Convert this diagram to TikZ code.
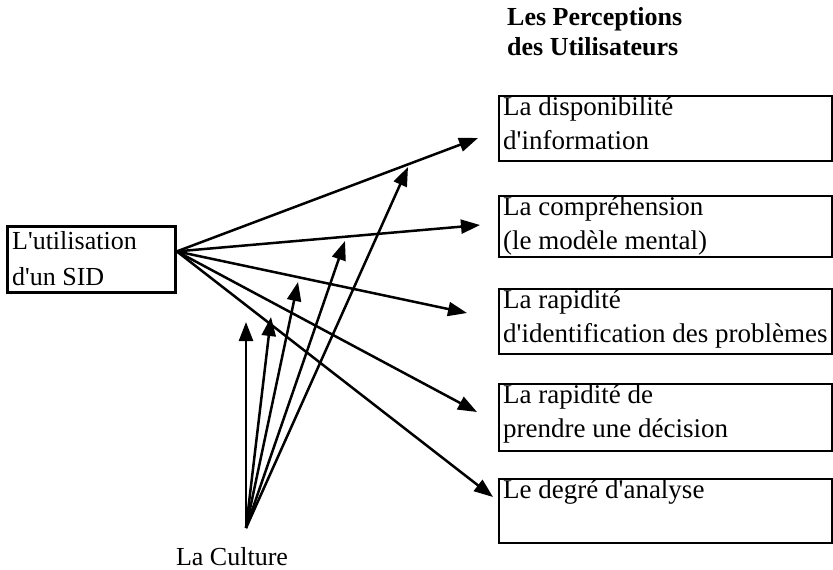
\documentclass[tikz,border=0pt]{standalone}
\usepackage{fontspec}
\setmainfont{Liberation Serif}[Ligatures=TeXOff]
\usetikzlibrary{arrows.meta}
\newcommand\boxlines[1]{\begin{tabular}[t]{@{}l@{}}#1\end{tabular}}
\begin{document}
\begin{tikzpicture}[x=1pt,y=-1pt,
  frame/.style={draw, line width=2.4pt, minimum width=333pt, anchor=north west, inner sep=0pt},
  txt/.style={anchor=base west, inner sep=0pt, font=\fontsize{27}{34}\selectfont},
  arr/.style={line width=2.5pt, -{Triangle[length=19pt,width=14pt]}}]
\useasboundingbox (0,0) rectangle (833,570);

% title
\node[txt, font=\fontsize{26}{30}\selectfont\bfseries] (title) at (507,25)
  {\boxlines{Les Perceptions\\des Utilisateurs}};

% left box
\node[frame, minimum width=168pt, minimum height=66pt, line width=2.8pt] (L) at (6,225) {};
\node[txt, font=\fontsize{26}{36}\selectfont] (Lt) at (12,249) {\boxlines{L'utilisation\\d'un SID}};

% right boxes
\node[frame, minimum height=65pt] (b1) at (498,95) {};
\node[txt] (t1) at (503,115) {\boxlines{La disponibilité\\d'information}};
\node[frame, minimum height=61pt] (b2) at (498,195) {};
\node[txt] (t2) at (503,215) {\boxlines{La compréhension\\(le modèle mental)}};
\node[frame, minimum height=65pt] (b3) at (498,288) {};
\node[txt] (t3) at (503,308) {\boxlines{La rapidité\\d'identification des problèmes}};
\node[frame, minimum height=67pt] (b4) at (498,383) {};
\node[txt] (t4) at (503,403) {\boxlines{La rapidité de\\prendre une décision}};
\node[frame, minimum height=64pt] (b5) at (498,478) {};
\node[txt] (t5) at (503,498) {\boxlines{Le degré d'analyse}};

% culture
\node[anchor=base, inner sep=0pt, font=\fontsize{26}{30}\selectfont] (cul) at (232,565) {La Culture};
\coordinate (c) at (246,528);

% origin on left box
\coordinate (o) at ([yshift=8pt]L.east);

% tips toward boxes
\coordinate (p1) at (478,138);
\coordinate (p2) at (480,225);
\coordinate (p3) at (467,313);
\coordinate (p4) at (477,412);
\coordinate (p5) at (493,497);

\draw[arr] (o) -- (p1);
\draw[arr] (o) -- (p2);
\draw[arr] (o) -- (p3);
\draw[arr] (o) -- (p4);
\draw[arr] (o) -- (p5);

% culture tips
\coordinate (q1) at (246,322);
\coordinate (q2) at (271,317);
\coordinate (q3) at (298,282);
\coordinate (q4) at (345,241);
\coordinate (q5) at (408,167);

\draw[arr] (c) -- (q1);
\draw[arr] (c) -- (q2);
\draw[arr] (c) -- (q3);
\draw[arr] (c) -- (q4);
\draw[arr] (c) -- (q5);
\end{tikzpicture}
\end{document}
